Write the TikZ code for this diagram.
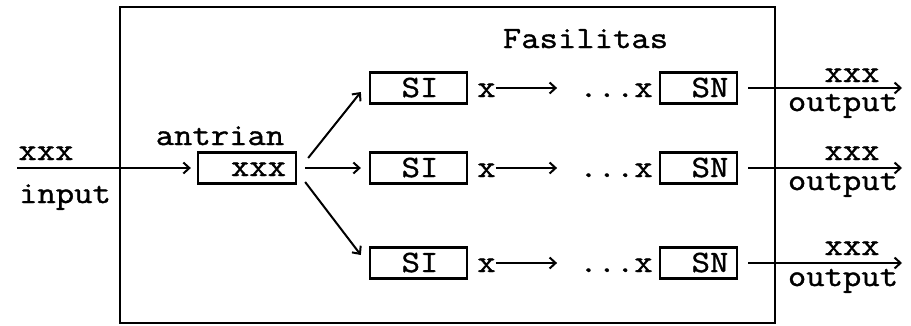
\documentclass[tikz,border=0pt]{standalone}
\usepackage{fontspec}
\setmonofont[FakeStretch=1.15,FakeBold=1.2]{Latin Modern Mono}
\usetikzlibrary{arrows.meta,calc}
\begin{document}
\begin{tikzpicture}[x=1pt,y=-1pt,
  txt/.style={inner sep=0pt,anchor=base,font=\ttfamily\fontsize{31}{31}\selectfont},
  box/.style={draw,line width=2.3pt,inner sep=0pt,minimum height=31pt},
  arr/.style={line width=2pt,-{Straight Barb[length=6pt,width=11pt]}},
  plain/.style={line width=2pt}]
\useasboundingbox (0,0) rectangle (911,325);
% outer facility box
\node[draw,line width=2pt,minimum width=655pt,minimum height=316pt,inner sep=0pt] (fac) at (447.5,165) {};
\node[txt] (fastxt) at (585.5,48) {Fasilitas};
% input
\coordinate (inp) at (17,168);
\node[txt] (inxxx) at (46,160) {xxx};
\node[txt] (intxt) at (65,203) {input};
% queue
\node[box,minimum width=98pt] (q) at (247,168) {};
\node[txt] (qxxx) at (258.5,176) {xxx};
\node[txt] (antr) at (220,145) {antrian};
\draw[arr,shorten >=6pt] (inp) -- (q.west);
% rows
\foreach \i/\y/\ob/\oo in {1/88/82/111, 2/168/160/190, 3/263/255/286}{
  \node[box,minimum width=97pt] (si\i) at (418.5,\y) {};
  \node[txt] (sit\i) at (420,\y+9) {SI};
  \node[txt] (xa\i) at (486.5,\y+9) {x};
  \node[txt] (dx\i) at (616,\y+9) {...x};
  \node[box,minimum width=77pt] (sn\i) at (698.5,\y) {};
  \node[txt] (snt\i) at (710,\y+9) {SN};
  \coordinate (out\i) at (902,\y);
  \node[txt] (ox\i) at (852,\ob) {xxx};
  \node[txt] (ot\i) at (843,\oo) {output};
  \draw[arr,shorten >=22pt] (xa\i.east |- si\i.east) -- (dx\i.west |- si\i.east);
  \draw[arr] ($(sn\i.east)+(10,0)$) -- (out\i);
}
% queue to servers
\draw[arr] ($(q.east)+(11,-10)$) -- ($(si1.west)+(-8,4)$);
\draw[arr] ($(q.east)+(8,0)$) -- ($(si2.west)+(-8,0)$);
\draw[arr] ($(q.east)+(8,14)$) -- ($(si3.west)+(-8,-8)$);
\end{tikzpicture}
\end{document}
